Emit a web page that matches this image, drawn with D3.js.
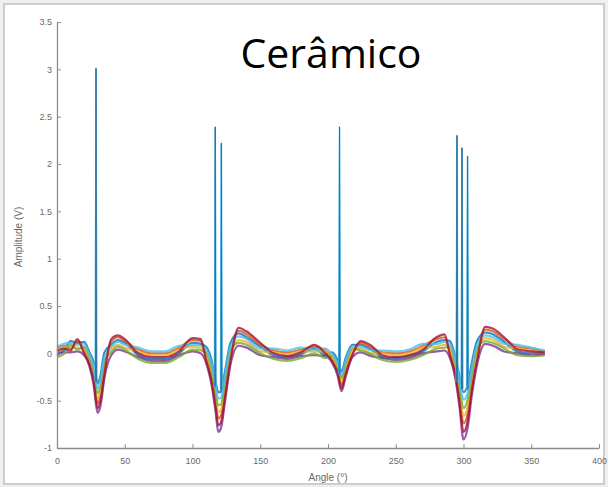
<!DOCTYPE html>
<html>
<head>
<meta charset="utf-8">
<script src="https://cdn.jsdelivr.net/npm/d3@7"></script>
<style>
  html, body { margin: 0; padding: 0; background: #efefef; }
  #chart { width: 608px; height: 487px; }
  .tick text { font-family: "Liberation Sans", Arial, sans-serif; }
</style>
</head>
<body>
<div id="chart"></div>
<script>
// Sample angles (degrees) shared by all traces
const angles = [0,5,10,15,20,24,27,30,32,35, 40,45,50,60,70,80,90,100,106,110,
  114,117,119,121,124,128,134,140,150,160, 170,180,190,198,203,207,210,213,218,224,
  232,240,250,260,270,280,286,290,294,297, 300,303,306,310,316,322,330,340,350,360];

// Amplitude (V) of each trace
const sBlue = [0,0.03,0.13,0.11,0.12,0.01,-0.09,-0.32,-0.24,0.01, 0.09,0.14,0.11,-0.02,-0.06,-0.06,0,0.11,0.10,0.07,
  -0.07,-0.29,-0.41,-0.41,-0.19,0.11,0.21,0.17,0.07,-0.02, -0.04,-0.01,0.05,-0.02,0.01,-0.07,-0.19,-0.05,0.09,0.09,
  0.04,-0.04,-0.05,-0.03,0.02,0.12,0.14,0.13,-0.04,-0.24, -0.41,-0.34,-0.11,0.13,0.22,0.20,0.12,0.02,0,0];
const sOrange = [0.05,0.08,0.05,0.13,0.03,-0.09,-0.25,-0.53,-0.45,-0.17, 0.12,0.17,0.13,0.04,0,0,0.06,0.14,0.13,-0.04,
  -0.24,-0.50,-0.69,-0.66,-0.40,-0.04,0.24,0.20,0.09,0.03, 0.01,0.04,0.07,0.03,-0.06,-0.18,-0.33,-0.18,0,0.11,
  0.06,0.01,0,0.02,0.08,0.15,0.17,0.01,-0.19,-0.45, -0.74,-0.64,-0.34,-0.04,0.25,0.23,0.15,0.07,0.05,0.02];
const sYellow = [0.03,0.06,0.07,0.06,0.05,-0.07,-0.21,-0.48,-0.40,-0.13, 0.04,0.09,0.06,0.02,-0.02,-0.02,0.04,0.07,0.05,-0.02,
  -0.20,-0.45,-0.62,-0.60,-0.35,0,0.14,0.12,0.02,0.01, -0.01,0.02,0.02,0.02,-0.05,-0.15,-0.30,-0.15,0.03,0.05,
  0,0,-0.02,0,0.06,0.07,0.09,0.04,-0.16,-0.40, -0.66,-0.57,-0.29,0.01,0.16,0.14,0.07,0.05,0.03,0.01];
const sPurple = [-0.02,0.01,0.01,0.02,-0.02,-0.14,-0.33,-0.63,-0.56,-0.26, -0.02,0.04,0.02,-0.04,-0.08,-0.08,-0.02,0.02,0,-0.10,
  -0.33,-0.61,-0.83,-0.79,-0.51,-0.12,0.08,0.06,-0.02,-0.04, -0.06,-0.03,-0.02,-0.03,-0.10,-0.23,-0.40,-0.25,-0.04,0.01,
  -0.03,-0.05,-0.07,-0.05,0,0.02,0.03,-0.05,-0.27,-0.56, -0.91,-0.79,-0.46,-0.12,0.10,0.08,0.02,0,-0.02,-0.01];
const sGreen = [-0.04,-0.01,0.09,0.04,0.07,-0.04,-0.17,-0.42,-0.35,-0.08, 0.01,0.07,0.04,-0.06,-0.10,-0.10,-0.04,0.04,0.03,0.01,
  -0.16,-0.40,-0.55,-0.54,-0.30,0.03,0.11,0.09,0,-0.06, -0.08,-0.05,0,-0.05,-0.03,-0.12,-0.26,-0.12,0.05,0.03,
  -0.01,-0.07,-0.09,-0.07,-0.02,0.05,0.06,0.07,-0.12,-0.35, -0.58,-0.49,-0.23,0.05,0.13,0.11,0.05,-0.02,-0.03,-0.02];
const sLightBlue = [0.07,0.10,0.11,0.09,0.10,-0.02,-0.13,-0.37,-0.29,-0.04, 0.07,0.12,0.09,0.06,0.02,0.02,0.08,0.09,0.08,0.04,
  -0.11,-0.34,-0.48,-0.47,-0.24,0.07,0.18,0.15,0.05,0.05, 0.03,0.06,0.04,0.05,-0.01,-0.10,-0.23,-0.08,0.07,0.07,
  0.03,0.03,0.02,0.04,0.10,0.10,0.12,0.10,-0.08,-0.29, -0.49,-0.42,-0.17,0.09,0.19,0.17,0.10,0.09,0.06,0.03];
const sDarkRed = [0.02,0.05,0.03,0.15,0,-0.12,-0.29,-0.58,-0.51,-0.22, 0.15,0.19,0.15,0,-0.04,-0.04,0.02,0.16,0.15,-0.07,
  -0.29,-0.56,-0.76,-0.73,-0.46,-0.08,0.27,0.23,0.11,0, -0.03,0.01,0.09,0,-0.08,-0.20,-0.37,-0.22,-0.02,0.13,
  0.08,-0.02,-0.04,-0.02,0.04,0.17,0.20,-0.02,-0.23,-0.51, -0.83,-0.72,-0.40,-0.08,0.28,0.26,0.17,0.04,0.02,0.01];

const seriesValues = [sBlue, sOrange, sYellow, sPurple, sGreen, sLightBlue, sDarkRed];
const seriesColors = ["#0072BD", "#D95319", "#EDB120", "#7E2F8E", "#77AC30", "#4DBEEE", "#A2142F"];

// Narrow spikes: angle of the tip, tip amplitude, amplitude where the spike meets the dip
const spikeAngles = [28.8, 116.8, 121.3, 208.5, 295.2, 298.9, 303.0];
const spikePeaks  = [3.01, 2.39, 2.22, 2.39, 2.30, 2.17, 2.08];
const spikeFeet   = [-0.30, -0.35, -0.40, -0.22, -0.30, -0.38, -0.38];

const xTicks = [0, 50, 100, 150, 200, 250, 300, 350, 400];
const yTicks = [-1, -0.5, 0, 0.5, 1, 1.5, 2, 2.5, 3, 3.5];

const W = 608, H = 487;
const m = { top: 22, right: 9, bottom: 39, left: 57 };

const svg = d3.select("#chart").append("svg").attr("width", W).attr("height", H);

// soften the traces a little, as in the scanned figure
svg.append("defs").append("filter").attr("id", "soft")
    .append("feGaussianBlur").attr("stdDeviation", 0.5);

// frame
svg.append("rect").attr("x", 0).attr("y", 0).attr("width", W).attr("height", H).attr("fill", "#efefef");
svg.append("rect").attr("x", 4).attr("y", 4).attr("width", W - 8).attr("height", H - 7)
    .attr("fill", "#ffffff").attr("stroke", "#cdcdcd").attr("stroke-width", 2);

const x = d3.scaleLinear().domain([0, 400]).range([m.left, W - m.right]);
const y = d3.scaleLinear().domain([-1, 3.5]).range([H - m.bottom, m.top]);

const line = d3.line().x(d => x(d[0])).y(d => y(d[1])).curve(d3.curveMonotoneX);

const traces = svg.append("g").attr("fill", "none").attr("stroke-linejoin", "round")
    .attr("filter", "url(#soft)");
seriesValues.forEach((vals, k) => {
    traces.append("path")
        .datum(angles.map((a, i) => [a, vals[i]]))
        .attr("stroke", seriesColors[k])
        .attr("stroke-width", 2.2)
        .attr("stroke-opacity", 0.8)
        .attr("d", line);
});

// spikes (blue traces)
const spikeLine = d3.line().x(d => x(d[0])).y(d => y(d[1]));
spikeAngles.forEach((a, i) => {
    traces.append("path")
        .datum([[a - 0.6, spikeFeet[i]], [a, spikePeaks[i]], [a + 0.6, spikeFeet[i]]])
        .attr("stroke", "#4DBEEE").attr("stroke-width", 1.5).attr("d", spikeLine);
    traces.append("path")
        .datum([[a - 0.3, spikeFeet[i]], [a, spikePeaks[i]], [a + 0.3, spikeFeet[i]]])
        .attr("stroke", "#2f6f9a").attr("stroke-width", 1).attr("d", spikeLine);
});

// axes
const axisColor = "#8c8c8c";
const gx = svg.append("g").attr("transform", `translate(0,${H - m.bottom})`)
    .call(d3.axisBottom(x).tickValues(xTicks).tickFormat(d => String(d))
        .tickSizeInner(-4).tickSizeOuter(0).tickPadding(10));
const gy = svg.append("g").attr("transform", `translate(${m.left},0)`)
    .call(d3.axisLeft(y).tickValues(yTicks).tickFormat(d => String(d))
        .tickSizeInner(-4).tickSizeOuter(0).tickPadding(5));
[gx, gy].forEach(g => {
    g.select(".domain").attr("stroke", axisColor).attr("stroke-width", 1.3);
    g.selectAll(".tick line").attr("stroke", axisColor);
    g.selectAll(".tick text").attr("fill", "#6a6a6a").attr("font-size", 9);
});

svg.append("text").attr("x", (m.left + W - m.right) / 2).attr("y", 481)
    .attr("text-anchor", "middle").attr("fill", "#6a6a6a")
    .attr("font-family", "Liberation Sans, Arial, sans-serif").attr("font-size", 10)
    .text("Angle (°)");
svg.append("text").attr("transform", "rotate(-90)").attr("x", -237).attr("y", 22)
    .attr("text-anchor", "middle").attr("fill", "#6a6a6a")
    .attr("font-family", "Liberation Sans, Arial, sans-serif").attr("font-size", 10)
    .text("Amplitude (V)");

// title
svg.append("text").attr("x", 331).attr("y", 68)
    .attr("text-anchor", "middle").attr("fill", "#000")
    .attr("font-family", "Open Sans, sans-serif").attr("font-size", 41)
    .text("Cerâmico");
</script>
</body>
</html>
